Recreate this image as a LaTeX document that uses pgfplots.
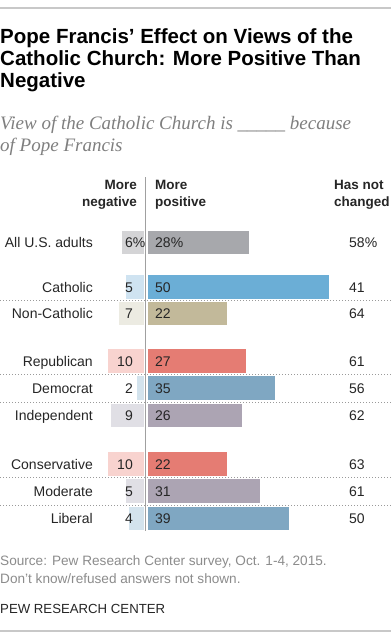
\documentclass[border=0pt]{standalone}
\usepackage{fontspec}
\setmainfont{Liberation Sans}
\newfontfamily\subfont{Liberation Serif}
\usepackage{pgfplots}
\pgfplotsset{compat=1.18}
\definecolor{grayP}{HTML}{A7A8AC}
\definecolor{grayN}{HTML}{D4D4D6}
\definecolor{cathP}{HTML}{6BAED6}
\definecolor{cathN}{HTML}{CFE3F1}
\definecolor{nonP}{HTML}{C2B99A}
\definecolor{nonN}{HTML}{ECEBE2}
\definecolor{repP}{HTML}{E57C73}
\definecolor{repN}{HTML}{F8D3CF}
\definecolor{demP}{HTML}{7FA7C2}
\definecolor{demN}{HTML}{D3E3ED}
\definecolor{indP}{HTML}{ACA4B3}
\definecolor{indN}{HTML}{E0DFE5}
\definecolor{txt}{HTML}{262626}
\definecolor{subc}{HTML}{7F7F7F}
\definecolor{srcc}{HTML}{8C8C8C}
\definecolor{linec}{HTML}{C8C8C8}
\definecolor{dotc}{HTML}{9A9A9A}
\definecolor{vline}{HTML}{A0A0A0}

\pgfplotstableread{
y      neg  pos  same
242.5  6    28   58
287    5    50   41
313.5  7    22   64
361    10   27   61
388    2    35   56
415.5  9    26   62
464    10   22   63
491    5    31   61
518.5  4    39   50
}\datatab

\begin{document}
\begin{tikzpicture}[x=1pt,y=-1pt]
\path[use as bounding box] (0,0) rectangle (391,640);
\fill[white] (0,0) rectangle (391,640);
\draw[linec, line width=2pt] (0,8) -- (391,8);
\draw[linec, line width=2pt] (0,630.5) -- (391,630.5);

% title
\begin{scope}[every node/.style={anchor=base west, inner sep=0pt, font=\fontsize{20.5}{22}\selectfont\bfseries, text=black}]
\node at (0,43.5) {Pope Francis’ Effect on Views of the};
\node at (0,65.7) {Catholic Church: More Positive Than};
\node at (0,87.7) {Negative};
\end{scope}
\begin{scope}[every node/.style={anchor=base west, inner sep=0pt, font=\subfont\itshape\fontsize{19}{22}\selectfont, text=subc}]
\node at (0,129.3) {View of the Catholic Church is \textunderscore\textunderscore\textunderscore\textunderscore\textunderscore\ because};
\node at (0,151) {of Pope Francis};
\end{scope}

% headers
\begin{scope}[every node/.style={inner sep=0pt, font=\fontsize{13.5}{16}\selectfont\bfseries, text=txt}]
\node[anchor=base east] at (137,189.5) {More};
\node[anchor=base east] at (137,206.5) {negative};
\node[anchor=base west] at (155,189.5) {More};
\node[anchor=base west] at (155,206.5) {positive};
\node[anchor=base west] at (334,189.5) {Has not};
\node[anchor=base west] at (334,206.5) {changed};
\end{scope}

% dotted separators
\foreach \yy in {300,374.5,402,477,505}{
  \draw[dotc, line width=1pt, dash pattern=on 1.2pt off 1.8pt] (0,\yy) -- (391,\yy);
}

% negative bars
\begin{axis}[at={(0,170)}, anchor=north west, width=391pt, height=370pt, scale only axis,
  xmin=-39.67, xmax=68.04, ymin=170, ymax=540, y dir=reverse, hide axis, clip=false,
  xbar, bar width=23.3pt, bar shift=0pt]
\addplot[fill=grayN, draw=none] coordinates {(-6,242.5)};
\addplot[fill=cathN, draw=none] coordinates {(-5,287)};
\addplot[fill=nonN, draw=none] coordinates {(-7,313.5)};
\addplot[fill=repN, draw=none] coordinates {(-10,361)};
\addplot[fill=demN, draw=none] coordinates {(-2,388)};
\addplot[fill=indN, draw=none] coordinates {(-9,415.5)};
\addplot[fill=repN, draw=none] coordinates {(-10,464)};
\addplot[fill=indN, draw=none] coordinates {(-5,491)};
\addplot[fill=demN, draw=none] coordinates {(-4,518.5)};
\end{axis}

% positive bars
\begin{axis}[at={(0,170)}, anchor=north west, width=391pt, height=370pt, scale only axis,
  xmin=-40.66, xmax=67.05, ymin=170, ymax=540, y dir=reverse, hide axis, clip=false,
  xbar, bar width=23.3pt, bar shift=0pt]
\addplot[fill=grayP, draw=none] coordinates {(28,242.5)};
\addplot[fill=cathP, draw=none] coordinates {(50,287)};
\addplot[fill=nonP, draw=none] coordinates {(22,313.5)};
\addplot[fill=repP, draw=none] coordinates {(27,361)};
\addplot[fill=demP, draw=none] coordinates {(35,388)};
\addplot[fill=indP, draw=none] coordinates {(26,415.5)};
\addplot[fill=repP, draw=none] coordinates {(22,464)};
\addplot[fill=indP, draw=none] coordinates {(31,491)};
\addplot[fill=demP, draw=none] coordinates {(39,518.5)};
\end{axis}

\draw[vline, line width=1.6pt] (145.6,177) -- (145.6,531);

% labels
\begin{scope}[every node/.style={inner sep=0pt, font=\fontsize{14}{16}\selectfont, text=txt}]
\foreach \yy/\lab/\n/\p/\s in {242.5/All U.S. adults/6\rlap{\%}/28\%/58\%,
  287/Catholic/5/50/41, 313.5/Non-Catholic/7/22/64,
  361/Republican/10/27/61, 388/Democrat/2/35/56, 415.5/Independent/9/26/62,
  464/Conservative/10/22/63, 491/Moderate/5/31/61, 518.5/Liberal/4/39/50}{
  \node[anchor=base east] at (93,\yy+5.2) {\lab};
  \node[anchor=base east] at (133,\yy+5.2) {\n};
  \node[anchor=base west] at (155,\yy+5.2) {\p};
  \node[anchor=base west] at (349,\yy+5.2) {\s};
}
\end{scope}

% footer
\begin{scope}[every node/.style={anchor=base west, inner sep=0pt, font=\fontsize{13.6}{16}\selectfont, text=srcc}]
\node at (0,565) {Source: Pew Research Center survey, Oct. 1-4, 2015.};
\node at (0,583.5) {Don’t know/refused answers not shown.};
\end{scope}
\node[anchor=base west, inner sep=0pt, font=\fontsize{13.2}{16}\selectfont, text=txt] at (0,613) {PEW RESEARCH CENTER};
\end{tikzpicture}
\end{document}
